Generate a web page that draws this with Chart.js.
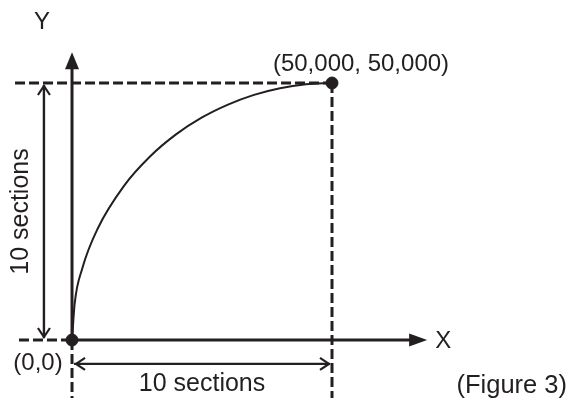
<!DOCTYPE html>
<html>
<head>
<meta charset="utf-8">
<script src="https://cdn.jsdelivr.net/npm/chart.js@4"></script>
<style>
  html, body { margin: 0; padding: 0; background: #ffffff; }
  #wrap { width: 573px; height: 407px; }
</style>
</head>
<body>
<div id="wrap"><canvas id="arcChart" width="573" height="407"></canvas></div>
<script>
// arc (data units)
const arcX = [0, 500, 2000, 5000, 10000, 15000, 20000, 25000, 30000, 35000, 40000, 45000, 50000];
const arcY = [0, 7000, 14000, 21800, 30000, 35700, 40000, 43300, 45800, 47700, 49000, 49750, 50000];

// start / end points
const markX = [0, 50000];
const markY = [0, 50000];

// labels
const endLabel = "(50,000, 50,000)";
const originLabel = "(0,0)";
const sectionsLabel = "10 sections";
const figureLabel = "(Figure 3)";
const xName = "X";
const yName = "Y";

const ink = "#231f20";
const font = "'Liberation Sans', Arial, sans-serif";

const xEnd = markX[1], yEnd = markY[1];
const axisTipX = 68300, axisTipY = 56000;
const dimX = -5400, dimY = -4650;

function seg(x1, y1, x2, y2) {
    return [{ x: x1, y: y1 }, { x: x2, y: y2 }];
}

function lineSet(data, width, dash) {
    return {
        type: "line",
        data: data,
        borderColor: ink,
        borderWidth: width,
        borderDash: dash || [],
        pointRadius: 0,
        fill: false,
        tension: 0
    };
}

// arrowheads + text
const drawExtras = {
    id: "drawExtras",
    afterDatasetsDraw(chart) {
        const ctx = chart.ctx;
        const xs = chart.scales.x, ys = chart.scales.y;
        const px = v => xs.getPixelForValue(v);
        const py = v => ys.getPixelForValue(v);

        ctx.save();
        ctx.fillStyle = ink;
        ctx.strokeStyle = ink;

        // filled axis arrowheads
        const ox = px(0), oy = py(0);
        const ty = py(axisTipY);
        ctx.beginPath();
        ctx.moveTo(ox, ty);
        ctx.lineTo(ox - 7, ty + 17);
        ctx.lineTo(ox + 7, ty + 17);
        ctx.closePath();
        ctx.fill();
        const tx = px(axisTipX);
        ctx.beginPath();
        ctx.moveTo(tx, oy);
        ctx.lineTo(tx - 18, oy - 6.5);
        ctx.lineTo(tx - 18, oy + 6.5);
        ctx.closePath();
        ctx.fill();

        // open chevrons on dimension lines
        ctx.lineWidth = 2.2;
        const chev = (x, y, dx, dy) => {
            ctx.beginPath();
            ctx.moveTo(x + dx * 9 - dy * 6, y + dy * 9 - dx * 6);
            ctx.lineTo(x, y);
            ctx.lineTo(x + dx * 9 + dy * 6, y + dy * 9 + dx * 6);
            ctx.stroke();
        };
        const dx0 = px(dimX);
        chev(dx0, py(yEnd) + 3, 0, 1);
        chev(dx0, oy - 3, 0, -1);
        const dy0 = py(dimY);
        chev(ox + 4, dy0, 1, 0);
        chev(px(xEnd) - 3, dy0, -1, 0);

        // text
        ctx.font = "24px " + font;
        ctx.textBaseline = "middle";
        ctx.textAlign = "center";
        ctx.fillText(yName, ox - 30, ty - 30);
        ctx.fillText(xName, tx + 16, oy + 1);
        ctx.fillText(endLabel, px(xEnd) + 29, py(yEnd) - 19);
        ctx.fillText(originLabel, ox - 34, oy + 23);
        ctx.font = "25px " + font;
        ctx.fillText(sectionsLabel, (ox + px(xEnd)) / 2, dy0 + 20);
        ctx.textAlign = "right";
        ctx.font = "25.5px " + font;
        ctx.fillText(figureLabel, 567, 386);

        ctx.font = "25px " + font;
        ctx.translate(dx0 - 23, (oy + py(yEnd)) / 2);
        ctx.rotate(-Math.PI / 2);
        ctx.textAlign = "center";
        ctx.fillText(sectionsLabel, 0, 0);
        ctx.restore();
    }
};

const arcData = arcX.map((x, i) => ({ x: x, y: arcY[i] }));
const markData = markX.map((x, i) => ({ x: x, y: markY[i] }));

new Chart(document.getElementById("arcChart"), {
    type: "scatter",
    data: {
        datasets: [
            // dashed guides
            lineSet(seg(-10960, yEnd, xEnd, yEnd), 3, [10, 4]),
            lineSet(seg(-10200, 0, 0, 0), 3, [10, 4]),
            lineSet(seg(xEnd, yEnd, xEnd, -11300), 3, [10, 4]),
            lineSet(seg(0, 0, 0, -11300), 3, [10, 4]),
            // axes
            lineSet(seg(0, 0, 0, axisTipY - 2500), 3),
            lineSet(seg(0, 0, axisTipX - 2500, 0), 3),
            // dimension lines
            lineSet(seg(dimX, 400, dimX, yEnd - 400), 2.4),
            lineSet(seg(400, dimY, xEnd - 400, dimY), 2.4),
            // the arc
            {
                type: "line",
                data: arcData,
                borderColor: ink,
                borderWidth: 2,
                pointRadius: 0,
                cubicInterpolationMode: "monotone",
                fill: false
            },
            // start and end points
            {
                data: markData,
                backgroundColor: ink,
                borderColor: ink,
                pointRadius: 6,
                pointHoverRadius: 6
            }
        ]
    },
    options: {
        responsive: false,
        animation: false,
        events: [],
        layout: { padding: 0, autoPadding: false },
        plugins: {
            legend: { display: false },
            tooltip: { enabled: false }
        },
        scales: {
            x: {
                type: "linear",
                display: false,
                min: -13850,
                max: 96350
            },
            y: {
                type: "linear",
                display: false,
                min: -13035,
                max: 66150
            }
        }
    },
    plugins: [drawExtras]
});
</script>
</body>
</html>
